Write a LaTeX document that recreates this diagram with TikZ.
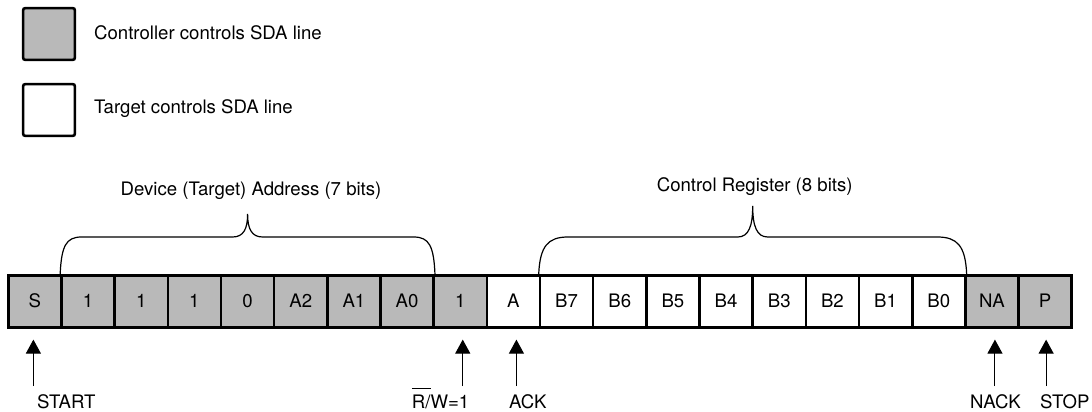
\documentclass[tikz,border=0pt]{standalone}
\usepackage{fontspec}
\setmainfont{TeX Gyre Heros}
\usetikzlibrary{arrows.meta,calc}
\definecolor{ctrlgray}{RGB}{185,185,185}
\newcommand{\ovbar}[1]{{\setbox0\hbox{#1}\rlap{\rule[19.5pt]{\wd0}{1pt}}\box0}}
\begin{document}
\begin{tikzpicture}[x=1pt,y=-1pt,
  font=\fontsize{18.6}{22}\selectfont,
  bit/.style={draw,line width=2.6pt,minimum width=53.17pt,minimum height=52pt,
    inner sep=0pt,fill=#1,text height=13.3pt,text depth=0pt},
  bit/.default=ctrlgray,
  legbox/.style={draw,line width=2.6pt,minimum size=51.7pt,inner sep=0pt,
    rounded corners=2pt,fill=#1},
  lbl/.style={inner sep=0pt,text height=13.3pt,text depth=0pt},
  marker/.style={line width=1pt,-{Triangle[length=14pt,width=15pt]},shorten >=11pt},
  brace/.style={line width=1.2pt}]
\useasboundingbox (0,0) rectangle (1092,412);

% legend
\node[legbox=ctrlgray] (lg1) at (49,34) {};
\node[lbl,anchor=west] (lt1) at (94,33) {Controller controls SDA line};
\node[legbox=white] (lg2) at (49,110) {};
\node[lbl,anchor=west] (lt2) at (94,107) {Target controls SDA line};

% bit cells
\foreach [count=\i from 0] \t/\f in {S/ctrlgray,1/ctrlgray,1/ctrlgray,1/ctrlgray,
  0/ctrlgray,A2/ctrlgray,A1/ctrlgray,A0/ctrlgray,1/ctrlgray,A/white,
  B7/white,B6/white,B5/white,B4/white,B3/white,B2/white,B1/white,B0/white,
  NA/ctrlgray,P/ctrlgray}
  \node[bit=\f] (c\i) at ({8.3+(\i+0.5)*53.17},301.3) {\t};

% braces
\draw[brace] (c1.north west) .. controls (61.5,246) and (66,237) .. (81.5,237)
  -- (232.5,237) .. controls (243.5,237) and (247.6,229) .. (247.6,214)
  .. controls (247.6,229) and (251.7,237) .. (262.7,237)
  -- (413.7,237) .. controls (429.2,237) and (433.7,246) .. (c7.north east);
\node[lbl] (dlab) at (251,189) {Device (Target) Address (7 bits)};

\draw[brace] (c10.north west) .. controls (540,246) and (548,237) .. (568,237)
  -- (737.7,237) .. controls (748.7,237) and (752.7,226) .. (752.7,206)
  .. controls (752.7,226) and (756.7,237) .. (767.7,237)
  -- (937.4,237) .. controls (957.4,237) and (965.4,246) .. (c17.north east);
\node[lbl] (clab) at (754.7,184.5) {Control Register (8 bits)};

% markers
\coordinate (m0) at ($(c0.south)+(-1.5,57.5)$);
\coordinate (m8) at ($(c8.south)+(2.5,57.5)$);
\coordinate (m9) at ($(c9.south)+(3,57.5)$);
\coordinate (m18) at ($(c18.south)+(3,57.5)$);
\coordinate (m19) at ($(c19.south)+(1,57.5)$);
\foreach \k in {0,8,9,18,19}
  \draw[marker] (m\k) -- (m\k |- c\k.south);

\node[lbl,anchor=west] (l0) at (37,402) {START};
\node[lbl,anchor=east] (l8) at (469.5,402) {\ovbar{R/}W=1};
\node[lbl,anchor=west] (l9) at (509,402) {ACK};
\node[lbl] (l18) at (995.5,402) {NACK};
\node[lbl,anchor=west] (l19) at (1040,402) {STOP};
\end{tikzpicture}
\end{document}
